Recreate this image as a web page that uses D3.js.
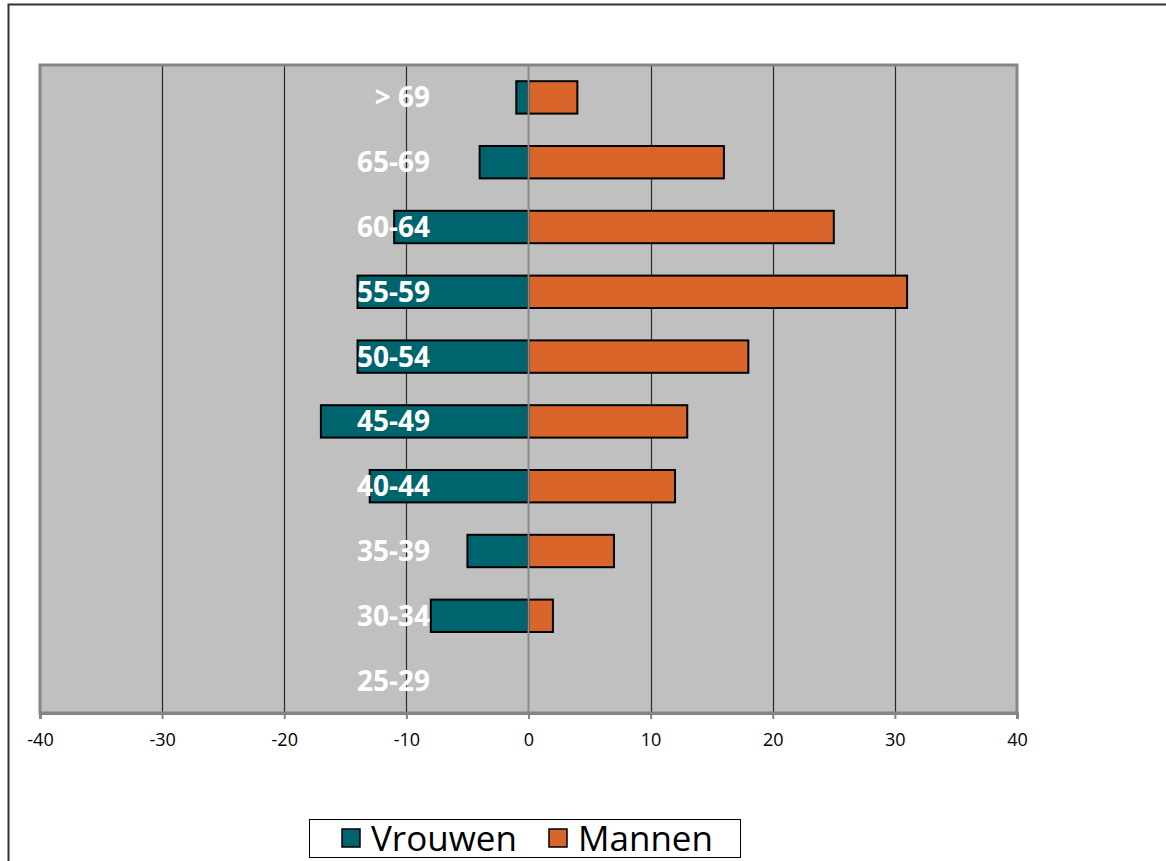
<!DOCTYPE html>
<html>
<head>
<meta charset="utf-8">
<script src="https://cdn.jsdelivr.net/npm/d3@7"></script>
<style>
  html, body { margin: 0; padding: 0; background: #fff; }
  svg { display: block; }
</style>
</head>
<body>
<svg id="chart" width="1166" height="861"></svg>
<script>
// Age groups, top to bottom
const ageGroups = ["> 69", "65-69", "60-64", "55-59", "50-54", "45-49", "40-44", "35-39", "30-34", "25-29"];
// Women drawn to the left (negative), men to the right
const vrouwen = [-1, -4, -11, -14, -14, -17, -13, -5, -8, 0];
const mannen = [4, 16, 25, 31, 18, 13, 12, 7, 2, 0];
const xTicks = [-40, -30, -20, -10, 0, 10, 20, 30, 40];
const seriesNames = ["Vrouwen", "Mannen"];
const seriesColors = ["#00646e", "#d9652b"];

const svg = d3.select("#chart");
const plot = { left: 40, right: 1017, top: 65, bottom: 713 };

// Outer frame
svg.append("rect")
  .attr("x", 8.5).attr("y", 4.5)
  .attr("width", 1170).attr("height", 880)
  .attr("fill", "none").attr("stroke", "#333").attr("stroke-width", 2);

const x = d3.scaleLinear().domain([-40, 40]).range([plot.left, plot.right]);
const y = d3.scaleBand().domain(ageGroups).range([plot.top, plot.bottom]).paddingInner(0.5).paddingOuter(0.25);
const band = d3.scaleBand().domain(ageGroups).range([plot.top, plot.bottom]);

// Plot area
svg.append("rect")
  .attr("x", plot.left).attr("y", plot.top)
  .attr("width", plot.right - plot.left).attr("height", plot.bottom - plot.top)
  .attr("fill", "#c0c0c0");

// Vertical gridlines
svg.append("g").selectAll("line")
  .data(xTicks.filter(d => d !== 0 && d !== -40 && d !== 40))
  .join("line")
  .attr("x1", d => Math.round(x(d)) + 0.5).attr("x2", d => Math.round(x(d)) + 0.5)
  .attr("y1", plot.top).attr("y2", plot.bottom)
  .attr("stroke", "#2a2a2a").attr("stroke-width", 1.2);

// Bars
const rows = ageGroups.map((g, i) => ({ g, v: vrouwen[i], m: mannen[i] }));
const barG = svg.append("g");
[["v", 0], ["m", 1]].forEach(([key, si]) => {
  barG.selectAll(null)
    .data(rows.filter(r => r[key] !== 0))
    .join("rect")
    .attr("x", r => x(Math.min(0, r[key])))
    .attr("width", r => Math.abs(x(r[key]) - x(0)))
    .attr("y", r => y(r.g))
    .attr("height", y.bandwidth())
    .attr("fill", seriesColors[si])
    .attr("stroke", "#000").attr("stroke-width", 2);
});

// Zero line
svg.append("line")
  .attr("x1", x(0)).attr("x2", x(0))
  .attr("y1", plot.top).attr("y2", plot.bottom)
  .attr("stroke", "#8a8a8a").attr("stroke-width", 2);

// Plot border
svg.append("rect")
  .attr("x", plot.left).attr("y", plot.top)
  .attr("width", plot.right - plot.left).attr("height", plot.bottom - plot.top)
  .attr("fill", "none").attr("stroke", "#858585").attr("stroke-width", 3);

// Age labels
svg.append("g").selectAll("text")
  .data(ageGroups)
  .join("text")
  .attr("x", 430)
  .attr("y", d => band(d) + band.bandwidth() / 2)
  .attr("dy", "0.36em")
  .attr("text-anchor", "end")
  .attr("fill", "#fff")
  .attr("font-family", "'Open Sans', sans-serif")
  .attr("font-weight", "bold")
  .attr("font-size", 28)
  .text(d => d);

// X axis
const axis = svg.append("g")
  .attr("transform", `translate(0,${plot.bottom})`)
  .call(d3.axisBottom(x).tickValues(xTicks).tickSize(6).tickPadding(14).tickFormat(d3.format("d")));
axis.select(".domain").attr("stroke", "#858585").attr("stroke-width", 3);
axis.selectAll(".tick line").attr("stroke", "#858585").attr("stroke-width", 2);
axis.selectAll(".tick text")
  .attr("font-family", "'Open Sans', sans-serif")
  .attr("font-size", 18)
  .attr("fill", "#000")
  .text(d => d < 0 ? "-" + Math.abs(d) : d);

// Legend
const legend = svg.append("g");
legend.append("rect")
  .attr("x", 309.5).attr("y", 819.5).attr("width", 431).attr("height", 38)
  .attr("fill", "#fff").attr("stroke", "#000").attr("stroke-width", 1);
const legendX = [342, 549];
seriesNames.forEach((name, i) => {
  legend.append("rect")
    .attr("x", legendX[i]).attr("y", 829).attr("width", 18).attr("height", 18)
    .attr("fill", seriesColors[i]).attr("stroke", "#000").attr("stroke-width", 1.5);
  legend.append("text")
    .attr("x", legendX[i] + 29).attr("y", 838)
    .attr("dy", "0.36em")
    .attr("font-family", "'Open Sans', sans-serif")
    .attr("font-size", 35)
    .attr("fill", "#000")
    .text(name);
});
</script>
</body>
</html>
